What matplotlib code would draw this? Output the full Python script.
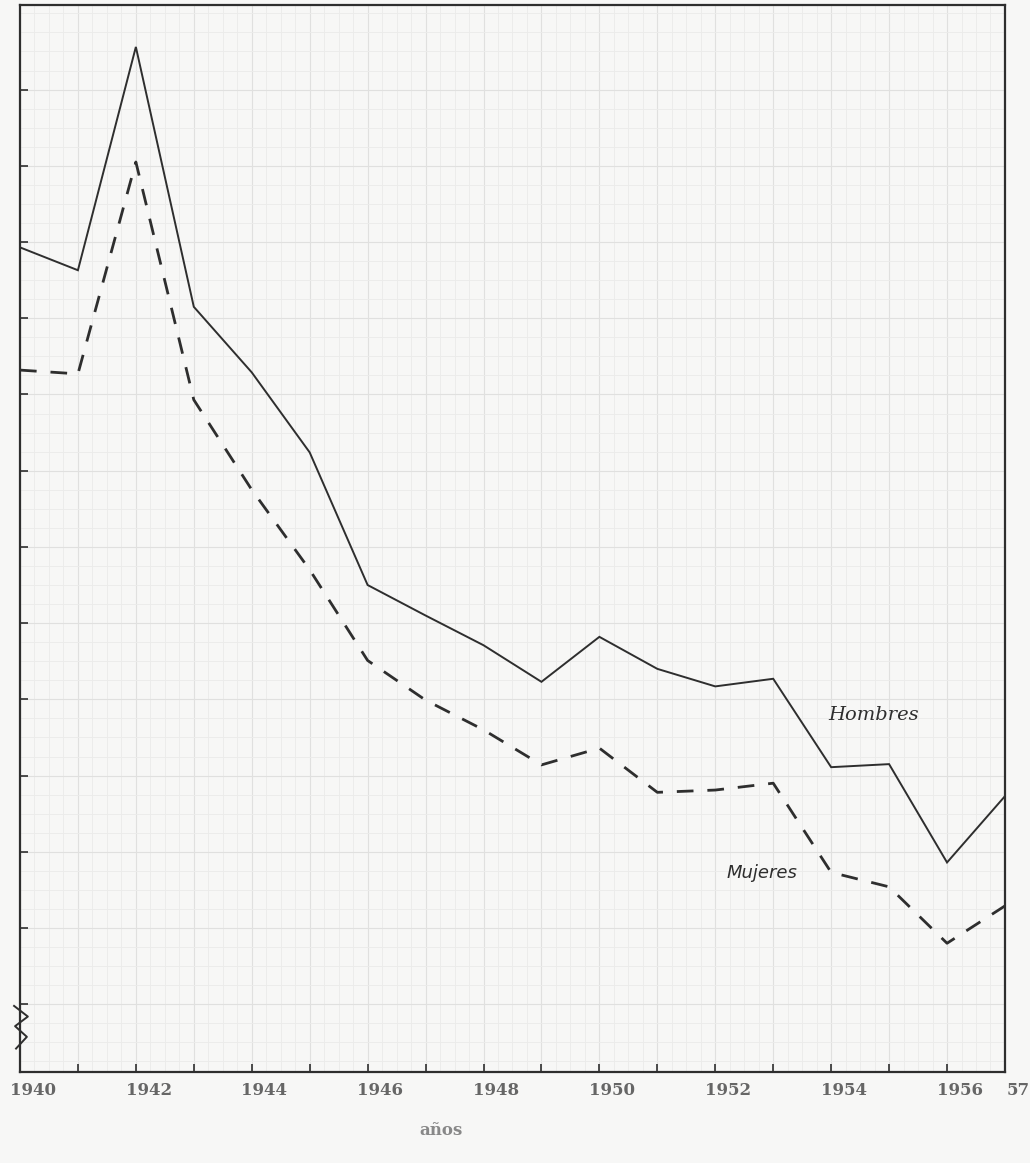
import numpy as np
import matplotlib
matplotlib.use("Agg")
import matplotlib.pyplot as plt

# --- DATOS (unidades de la cuadrícula del papel, sin escala impresa) ---
anios = [1940, 1941, 1942, 1943, 1944, 1945, 1946, 1947, 1948,
         1949, 1950, 1951, 1952, 1953, 1954, 1955, 1956, 1957]
hombres = [9.93, 9.63, 12.56, 9.15, 8.29, 7.24, 5.50, 5.10, 4.71,
           4.23, 4.82, 4.40, 4.17, 4.27, 3.11, 3.15, 1.86, 2.73]
mujeres = [8.32, 8.27, 11.05, 7.93, 6.75, 5.70, 4.51, 3.99, 3.60,
           3.14, 3.36, 2.78, 2.81, 2.90, 1.73, 1.54, 0.80, 1.29]
etiquetas_x = ['1940', '1942', '1944', '1946', '1948', '1950', '1952', '1954', '1956', '57']
pos_etiquetas = [1940, 1942, 1944, 1946, 1948, 1950, 1952, 1954, 1956, 1957]
ticks_y = list(range(0, 13))

tinta = '#2e2e2e'
fig = plt.figure(figsize=(10.3, 11.63), dpi=100, facecolor='#f7f7f6')
ax = fig.add_axes([0.0194, 0.0782, 0.9563, 0.9175])
ax.set_facecolor('#f7f7f6')

# papel cuadriculado
ax.set_xticks(np.arange(1940, 1957.01, 0.25), minor=True)
ax.set_yticks(np.arange(-0.75, 13.2, 0.25), minor=True)
ax.grid(which='minor', color='#ebebea', linewidth=0.6)
ax.grid(which='major', color='#e0e0df', linewidth=0.8)
ax.set_axisbelow(True)

ax.plot(anios, hombres, color=tinta, linewidth=1.4, solid_joinstyle='miter')
ax.plot(anios, mujeres, color=tinta, linewidth=2.0, linestyle=(0, (6, 5)))

ax.set_xlim(1940, 1957)
ax.set_ylim(-0.89, 13.11)
ax.set_xticks(anios)
ax.set_xticklabels([])
ax.set_yticks(ticks_y)
ax.set_yticklabels([])
ax.tick_params(direction='in', length=6, width=1.2, color=tinta)
ax.tick_params(which='minor', length=0)
for s in ax.spines.values():
    s.set_color(tinta)
    s.set_linewidth(1.6)

for x, lab in zip(pos_etiquetas, etiquetas_x):
    ax.text(x + 0.22, -1.02, lab, ha='center', va='top', fontsize=12,
            family='DejaVu Serif', fontweight='bold', color='#666666')
fig.text(0.428, 0.028, 'años', ha='center', va='center', fontsize=12,
         family='DejaVu Serif', fontweight='bold', color='#888888')

ax.text(1953.95, 3.79, 'Hombres', fontsize=14, style='italic', va='center',
        family='DejaVu Serif', color=tinta)
ax.text(1952.2, 1.65, 'Mujeres', fontsize=13, style='italic',
        family='DejaVu Sans', color=tinta)

# símbolo de corte del eje
zx = [-0.006, 0.008, -0.005, 0.007, -0.004]
zy = [0.062, 0.052, 0.043, 0.033, 0.022]
ax.plot(zx, zy, transform=ax.transAxes, color=tinta, linewidth=1.4, clip_on=False)

fig.savefig('out.png', dpi=100, facecolor=fig.get_facecolor())
